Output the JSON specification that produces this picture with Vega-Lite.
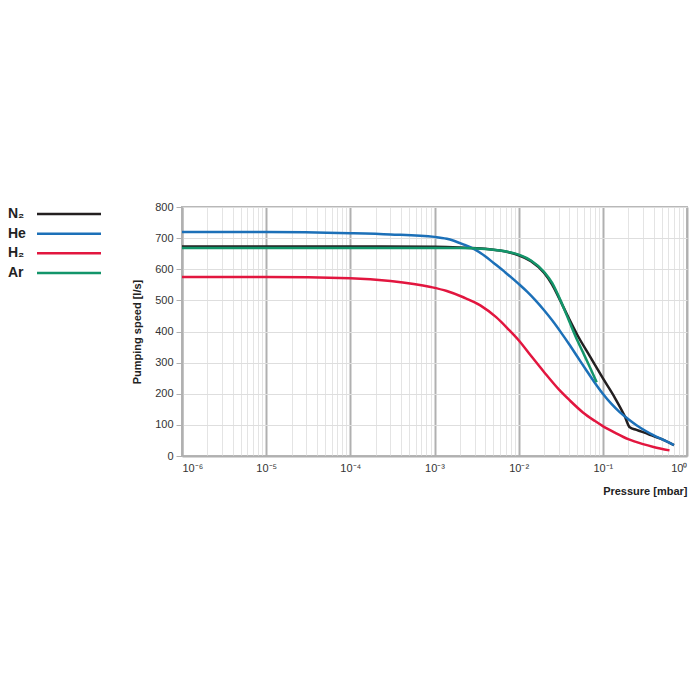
{
  "$schema": "https://vega.github.io/schema/vega-lite/v6.json",
  "padding": {"left": 8, "top": 200, "right": 5, "bottom": 5},
  "background": "white",
  "datasets": {
    "curves": [
      {"gas": "N₂", "p": 0.000001, "s": 673},
      {"gas": "N₂", "p": 0.00001, "s": 673},
      {"gas": "N₂", "p": 0.0001, "s": 673},
      {"gas": "N₂", "p": 0.001, "s": 672},
      {"gas": "N₂", "p": 0.002, "s": 670},
      {"gas": "N₂", "p": 0.004, "s": 666},
      {"gas": "N₂", "p": 0.006, "s": 660},
      {"gas": "N₂", "p": 0.008, "s": 653},
      {"gas": "N₂", "p": 0.01, "s": 645},
      {"gas": "N₂", "p": 0.014, "s": 626},
      {"gas": "N₂", "p": 0.02, "s": 589},
      {"gas": "N₂", "p": 0.025, "s": 551},
      {"gas": "N₂", "p": 0.03, "s": 509},
      {"gas": "N₂", "p": 0.04, "s": 439},
      {"gas": "N₂", "p": 0.05, "s": 388},
      {"gas": "N₂", "p": 0.07, "s": 321},
      {"gas": "N₂", "p": 0.085, "s": 282},
      {"gas": "N₂", "p": 0.1, "s": 250},
      {"gas": "N₂", "p": 0.139, "s": 187},
      {"gas": "N₂", "p": 0.182, "s": 128},
      {"gas": "N₂", "p": 0.209, "s": 92},
      {"gas": "N₂", "p": 0.251, "s": 84},
      {"gas": "N₂", "p": 0.35, "s": 70},
      {"gas": "N₂", "p": 0.5, "s": 54},
      {"gas": "N₂", "p": 0.7, "s": 35},
      {"gas": "He", "p": 0.000001, "s": 720},
      {"gas": "He", "p": 0.00001, "s": 720},
      {"gas": "He", "p": 0.0001, "s": 716},
      {"gas": "He", "p": 0.0003, "s": 712},
      {"gas": "He", "p": 0.001, "s": 704},
      {"gas": "He", "p": 0.0014, "s": 698},
      {"gas": "He", "p": 0.0022, "s": 680},
      {"gas": "He", "p": 0.003, "s": 664},
      {"gas": "He", "p": 0.004, "s": 642},
      {"gas": "He", "p": 0.005, "s": 621},
      {"gas": "He", "p": 0.007, "s": 589},
      {"gas": "He", "p": 0.01, "s": 553},
      {"gas": "He", "p": 0.01259, "s": 528},
      {"gas": "He", "p": 0.01585, "s": 500},
      {"gas": "He", "p": 0.01995, "s": 469},
      {"gas": "He", "p": 0.02512, "s": 435},
      {"gas": "He", "p": 0.03162, "s": 398},
      {"gas": "He", "p": 0.03981, "s": 359},
      {"gas": "He", "p": 0.05012, "s": 318},
      {"gas": "He", "p": 0.0631, "s": 277},
      {"gas": "He", "p": 0.07943, "s": 237},
      {"gas": "He", "p": 0.1, "s": 200},
      {"gas": "He", "p": 0.1259, "s": 168},
      {"gas": "He", "p": 0.1585, "s": 141},
      {"gas": "He", "p": 0.1995, "s": 119},
      {"gas": "He", "p": 0.2512, "s": 99},
      {"gas": "He", "p": 0.3162, "s": 82},
      {"gas": "He", "p": 0.3981, "s": 67},
      {"gas": "He", "p": 0.5012, "s": 54},
      {"gas": "He", "p": 0.631, "s": 41},
      {"gas": "He", "p": 0.7, "s": 35},
      {"gas": "H₂", "p": 0.000001, "s": 575},
      {"gas": "H₂", "p": 0.00001, "s": 575},
      {"gas": "H₂", "p": 0.0001, "s": 571},
      {"gas": "H₂", "p": 0.0003, "s": 562},
      {"gas": "H₂", "p": 0.0009, "s": 543},
      {"gas": "H₂", "p": 0.0014, "s": 530},
      {"gas": "H₂", "p": 0.0022, "s": 510},
      {"gas": "H₂", "p": 0.0035, "s": 484},
      {"gas": "H₂", "p": 0.0054, "s": 446},
      {"gas": "H₂", "p": 0.0075, "s": 408},
      {"gas": "H₂", "p": 0.01, "s": 372},
      {"gas": "H₂", "p": 0.014, "s": 322},
      {"gas": "H₂", "p": 0.02, "s": 270},
      {"gas": "H₂", "p": 0.03, "s": 214},
      {"gas": "H₂", "p": 0.04, "s": 180},
      {"gas": "H₂", "p": 0.058, "s": 140},
      {"gas": "H₂", "p": 0.08, "s": 113},
      {"gas": "H₂", "p": 0.1, "s": 96},
      {"gas": "H₂", "p": 0.139, "s": 75},
      {"gas": "H₂", "p": 0.2, "s": 54},
      {"gas": "H₂", "p": 0.3, "s": 38},
      {"gas": "H₂", "p": 0.4, "s": 29},
      {"gas": "H₂", "p": 0.62, "s": 18},
      {"gas": "Ar", "p": 0.000001, "s": 668},
      {"gas": "Ar", "p": 0.001, "s": 668},
      {"gas": "Ar", "p": 0.002, "s": 668},
      {"gas": "Ar", "p": 0.004, "s": 665},
      {"gas": "Ar", "p": 0.006, "s": 660},
      {"gas": "Ar", "p": 0.008, "s": 654},
      {"gas": "Ar", "p": 0.01, "s": 647},
      {"gas": "Ar", "p": 0.014, "s": 628},
      {"gas": "Ar", "p": 0.02, "s": 592},
      {"gas": "Ar", "p": 0.025, "s": 556},
      {"gas": "Ar", "p": 0.03, "s": 512},
      {"gas": "Ar", "p": 0.035, "s": 470},
      {"gas": "Ar", "p": 0.04, "s": 432},
      {"gas": "Ar", "p": 0.05, "s": 370},
      {"gas": "Ar", "p": 0.06, "s": 325},
      {"gas": "Ar", "p": 0.07, "s": 286},
      {"gas": "Ar", "p": 0.0845, "s": 237}
    ],
    "gases": [
      {"gas": "N₂"},
      {"gas": "He"},
      {"gas": "H₂"},
      {"gas": "Ar"}
    ]
  },
  "resolve": {"scale": {"x": "independent", "y": "independent"}},
  "spacing": 22,
  "hconcat": [
    {
      "width": 100,
      "height": 73,
      "view": {"stroke": null},
      "data": {"name": "gases"},
      "encoding": {
        "y": {
          "field": "gas",
          "type": "nominal",
          "scale": {"type": "point", "domain": ["N₂", "He", "H₂", "Ar"], "padding": 0.355},
          "axis": null
        }
      },
      "layer": [
        {
          "mark": {"type": "text", "align": "left", "baseline": "middle", "fontSize": 14, "fontWeight": "bold", "color": "#222"},
          "encoding": {
            "x": {"datum": 0, "type": "quantitative", "scale": {"domain": [0, 100]}, "axis": null},
            "text": {"field": "gas"}
          }
        },
        {
          "mark": {"type": "rule", "strokeWidth": 2.5},
          "encoding": {
            "x": {"datum": 29, "type": "quantitative", "scale": {"domain": [0, 100]}, "axis": null},
            "x2": {"datum": 93},
            "color": {
              "field": "gas",
              "type": "nominal",
              "scale": {"domain": ["N₂", "He", "H₂", "Ar"], "range": ["#231f20", "#1c70b8", "#e2163f", "#13956a"]},
              "legend": null
            }
          }
        }
      ]
    },
    {
      "width": 505,
      "height": 249,
      "view": {"stroke": "#b8b8b8", "strokeWidth": 2},
      "data": {"name": "curves"},
      "resolve": {"axis": {"x": "independent"}},
      "encoding": {
        "y": {
          "field": "s",
          "type": "quantitative",
          "scale": {"domain": [0, 800], "nice": false},
          "axis": {
            "values": [0, 100, 200, 300, 400, 500, 600, 700, 800],
            "labelOverlap": false,
            "title": "Pumping speed [l/s]",
            "titlePadding": 12,
            "grid": true,
            "gridColor": "#dedede",
            "gridWidth": 1,
            "domainColor": "#b0b0b0",
            "domainWidth": 2,
            "tickColor": "#b0b0b0",
            "tickSize": 6,
            "labelPadding": 3
          }
        }
      },
      "layer": [
        {
          "mark": {"type": "line", "opacity": 0},
          "encoding": {
            "x": {
              "field": "p",
              "type": "quantitative",
              "scale": {"type": "log", "domain": [0.000001, 1], "nice": false},
              "axis": {
                "orient": "bottom",
                "values": [0.000002, 0.000003, 0.000004, 0.000005, 0.000006, 0.000007, 0.000008, 0.000009,
                           0.00002, 0.00003, 0.00004, 0.00005, 0.00006, 0.00007, 0.00008, 0.00009,
                           0.0002, 0.0003, 0.0004, 0.0005, 0.0006, 0.0007, 0.0008, 0.0009,
                           0.002, 0.003, 0.004, 0.005, 0.006, 0.007, 0.008, 0.009,
                           0.02, 0.03, 0.04, 0.05, 0.06, 0.07, 0.08, 0.09,
                           0.2, 0.3, 0.4, 0.5, 0.6, 0.7, 0.8, 0.9],
                "labels": false,
                "ticks": false,
                "domain": false,
                "title": null,
                "grid": true,
                "gridColor": "#e4e4e4",
                "gridWidth": 1
              }
            },
            "detail": {"field": "gas"}
          }
        },
        {
          "mark": {"type": "line", "strokeWidth": 2.5, "interpolate": "monotone"},
          "encoding": {
            "x": {
              "field": "p",
              "type": "quantitative",
              "scale": {"type": "log", "domain": [0.000001, 1], "nice": false},
              "axis": {
                "orient": "bottom",
                "values": [0.000001, 0.00001, 0.0001, 0.001, 0.01, 0.1, 1],
                "labelExpr": "datum.value < 2e-6 ? '10⁻⁶' : datum.value < 2e-5 ? '10⁻⁵' : datum.value < 2e-4 ? '10⁻⁴' : datum.value < 2e-3 ? '10⁻³' : datum.value < 2e-2 ? '10⁻²' : datum.value < 0.2 ? '10⁻¹' : '10⁰'",
                "labelOverlap": false,
                "title": "Pressure [mbar]",
                "titleAnchor": "end",
                "titlePadding": 12,
                "grid": true,
                "gridColor": "#b0b0b0",
                "gridWidth": 2,
                "domainColor": "#b0b0b0",
                "domainWidth": 2,
                "ticks": false,
                "labelPadding": 6
              }
            },
            "color": {
              "field": "gas",
              "type": "nominal",
              "scale": {"domain": ["N₂", "He", "H₂", "Ar"], "range": ["#231f20", "#1c70b8", "#e2163f", "#13956a"]},
              "legend": null
            }
          }
        }
      ]
    }
  ],
  "config": {
    "font": "Liberation Sans",
    "axis": {
      "labelFont": "Liberation Sans",
      "labelFontSize": 11,
      "labelColor": "#333",
      "titleFont": "Liberation Sans",
      "titleFontSize": 11,
      "titleFontWeight": "bold",
      "titleColor": "#222"
    }
  }
}
